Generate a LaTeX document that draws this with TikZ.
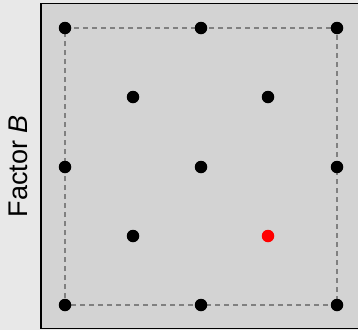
\documentclass[tikz,border=0pt]{standalone}
\usepackage{fontspec}
\setmainfont{Liberation Sans}
\definecolor{outerbg}{HTML}{E8E8E8}
\definecolor{innerbg}{HTML}{D3D3D3}
\definecolor{dashgray}{HTML}{808080}
\tikzset{
  pt/.style={circle,fill=black,inner sep=0pt,minimum size=12.5pt},
  redpt/.style={circle,fill=red,inner sep=0pt,minimum size=12.5pt},
  frame/.style={draw=dashgray,dashed,dash pattern=on 5pt off 4pt,line width=1.2pt}
}
\begin{document}
\begin{tikzpicture}[x=1pt,y=-1pt]
\fill[outerbg] (0,0) rectangle (358,330);
\useasboundingbox (0,0) rectangle (358,330);
\draw[fill=innerbg,line width=1.3pt] (41,3.5) rectangle (362,328.5);
\coordinate (c1) at (65,28);
\coordinate (c2) at (337,28);
\coordinate (c3) at (337,305);
\coordinate (c4) at (65,305);
\draw[frame] (c1) -- (c2) -- (c3) -- (c4) -- cycle;
\node[pt] (p1) at (65,28) {};
\node[pt] (p2) at (201,28) {};
\node[pt] (p3) at (337,28) {};
\node[pt] (p4) at (133,97) {};
\node[pt] (p5) at (268,97) {};
\node[pt] (p6) at (65,167) {};
\node[pt] (p7) at (201,167) {};
\node[pt] (p8) at (337,167) {};
\node[pt] (p9) at (133,236) {};
\node[redpt] (p10) at (268,236) {};
\node[pt] (p11) at (65,305) {};
\node[pt] (p12) at (201,305) {};
\node[pt] (p13) at (337,305) {};
\node[rotate=90,anchor=base,inner sep=0pt,font=\fontsize{27pt}{30pt}\selectfont] (lab) at (27,166) {Factor \textit{B}};
\end{tikzpicture}
\end{document}
